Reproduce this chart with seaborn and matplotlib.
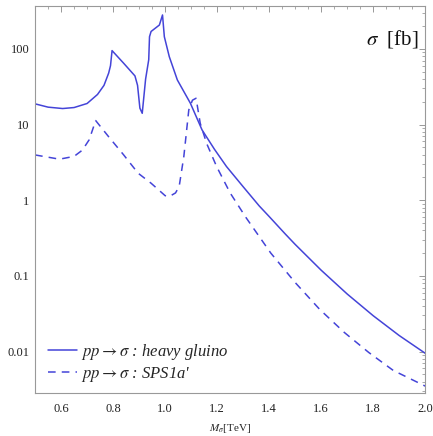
import numpy as np
import pandas as pd
import seaborn as sns
import matplotlib
matplotlib.use("Agg")
import matplotlib.pyplot as plt
from matplotlib.ticker import MultipleLocator, LogLocator, NullFormatter, FixedLocator

sns.set_theme(style="white")
plt.rcParams["font.family"] = ["Liberation Serif", "DejaVu Serif"]
plt.rcParams["mathtext.fontset"] = "stix"

# cross sections, in fb
gluino_mass = [0.50, 0.55, 0.606, 0.65, 0.70, 0.74, 0.765, 0.783, 0.79, 0.796,
               0.84, 0.884, 0.894, 0.903, 0.912, 0.925, 0.937, 0.94, 0.946, 0.978,
               0.99, 0.997, 1.016, 1.047, 1.097, 1.142, 1.19, 1.236, 1.30, 1.362,
               1.40, 1.462, 1.50, 1.60, 1.70, 1.80, 1.90, 2.00]
gluino_xsec = [18.8, 17.0, 16.3, 16.8, 19.0, 25.0, 33.0, 48.0, 60.0, 95.0,
               65.0, 44.0, 33.0, 16.5, 14.1, 40.0, 72.0, 145.0, 170.0, 207.0,
               281.0, 145.0, 79.0, 38.9, 19.2, 8.5, 4.7, 2.79, 1.51, 0.84,
               0.61, 0.358, 0.261, 0.119, 0.0577, 0.0298, 0.0163, 0.0095]

sps_mass = [0.50, 0.594, 0.65, 0.682, 0.708, 0.733, 0.783, 0.84, 0.896, 0.946,
            1.00, 1.016, 1.04, 1.054, 1.072, 1.091, 1.105, 1.119, 1.135, 1.16,
            1.198, 1.25, 1.311, 1.406, 1.50, 1.594, 1.689, 1.783, 1.877, 2.00]
sps_xsec = [3.97, 3.49, 3.8, 4.6, 6.3, 11.3, 6.9, 4.0, 2.28, 1.68,
            1.15, 1.12, 1.25, 1.52, 3.8, 15.6, 21.0, 22.3, 10.4, 5.6,
            2.79, 1.25, 0.59, 0.201, 0.0818, 0.0362, 0.0179, 0.00973, 0.00564, 0.0035]

labels = [r"$pp \rightarrow \sigma$ : heavy gluino", r"$pp \rightarrow \sigma$ : SPS1a'"]

df_g = pd.DataFrame({"mass": gluino_mass, "xsec": gluino_xsec})
df_s = pd.DataFrame({"mass": sps_mass, "xsec": sps_xsec})

fig = plt.figure(figsize=(4.33, 4.36), dpi=100)
ax = fig.add_axes([0.081, 0.099, 0.901, 0.887])

line_col = "#4444d8"
sns.lineplot(data=df_g, x="mass", y="xsec", ax=ax, color=line_col, lw=1.1,
             label=labels[0])
sns.lineplot(data=df_s, x="mass", y="xsec", ax=ax, color=line_col, lw=1.1,
             linestyle=(0, (5, 4)), label=labels[1])

ax.set_yscale("log")
ax.set_xlim(0.5, 2.0)
ax.set_ylim(0.00285, 368)

ax.xaxis.set_major_locator(MultipleLocator(0.2))
ax.xaxis.set_minor_locator(MultipleLocator(0.05))
ax.xaxis.set_major_formatter(plt.FuncFormatter(lambda v, p: f"{v:.1f}"))
ax.yaxis.set_major_locator(FixedLocator([0.01, 0.1, 1, 10, 100]))
ax.yaxis.set_major_formatter(plt.FuncFormatter(lambda v, p: f"{v:g}"))
ax.yaxis.set_minor_locator(LogLocator(base=10, subs=np.arange(2, 10)))
ax.yaxis.set_minor_formatter(NullFormatter())

ax.tick_params(which="both", direction="in", top=True, right=True,
               color="#888888", labelsize=9, labelcolor="#222222")
ax.tick_params(axis="x", pad=7)
ax.tick_params(axis="y", pad=4)
ax.tick_params(which="major", length=4, width=0.6)
ax.tick_params(which="minor", length=2, width=0.5)
for s in ax.spines.values():
    s.set_color("#999999")
    s.set_linewidth(0.8)

ax.set_xlabel(r"$M_\sigma$[TeV]", fontsize=8, labelpad=5)
ax.set_ylabel("")
ax.text(0.982, 0.902, r"$\sigma$  [fb]", transform=ax.transAxes, ha="right",
        va="baseline", fontsize=15, color="#111111")

leg = ax.legend(loc="lower left", bbox_to_anchor=(0.0, -0.012), frameon=False,
                prop={"size": 12, "style": "italic"}, handlelength=1.7,
                handletextpad=0.25, labelspacing=0.18, borderaxespad=0.4)

fig.savefig("out.png", dpi=100)
